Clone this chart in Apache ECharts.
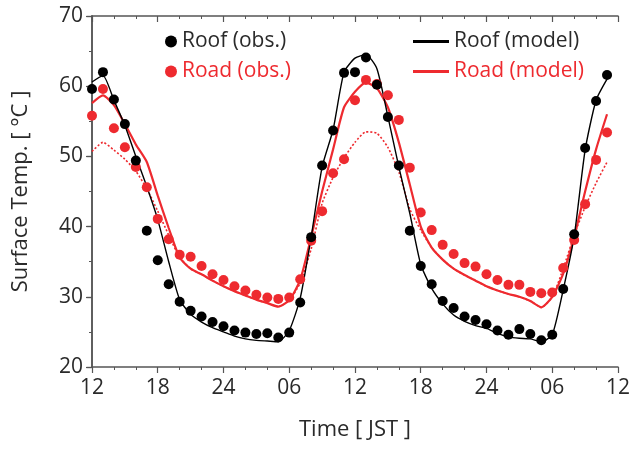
<!DOCTYPE html>
<html>
<head>
<meta charset="utf-8">
<script src="https://cdn.jsdelivr.net/npm/echarts@6/dist/echarts.min.js"></script>
<style>
html,body{margin:0;padding:0;background:#fff;}
#chart{width:633px;height:449px;}
</style>
</head>
<body>
<div id="chart"></div>
<script>
// Hours since 12 JST (hourly)
var hours = [0,1,2,3,4,5,6,7,8,9,10,11,12,13,14,15,16,17,18,19,20,21,22,23,24,25,26,27,28,29,30,31,32,33,34,35,36,37,38,39,40,41,42,43,44,45,46,47];
var xTickLabels = ['12','18','24','06','12','18','24','06','12'];
var yTicks = [20,30,40,50,60,70];

var roofObs = [59.6,62.0,58.1,54.6,49.4,39.4,35.2,31.8,29.3,28.0,27.2,26.4,25.8,25.2,24.9,24.7,24.8,24.2,24.9,29.2,38.5,48.7,53.7,61.9,62.0,64.1,60.2,55.6,48.7,39.4,34.4,31.8,29.4,28.4,27.2,26.7,26.1,25.2,24.6,25.4,24.7,23.8,24.6,31.1,38.9,51.2,57.9,61.6];
var roadObs = [55.8,59.6,54.0,51.3,48.5,45.6,41.1,38.2,36.0,35.7,34.4,33.2,32.4,31.5,30.9,30.3,29.9,29.7,29.9,32.5,38.0,42.2,47.6,49.6,58.0,60.9,60.3,58.7,55.2,48.4,42.0,39.5,37.4,36.1,34.8,34.3,33.2,32.4,31.7,31.7,30.7,30.5,30.6,34.1,38.1,43.2,49.5,53.4];
var roofModel = [60.6,61.5,58.0,54.4,50.0,45.7,41.0,35.0,29.6,27.5,26.4,25.6,25.0,24.4,24.0,23.8,23.7,23.6,25.2,29.8,38.5,48.5,53.8,62.0,64.0,64.5,62.5,55.7,48.5,41.9,34.6,31.2,29.0,27.4,26.5,25.9,25.5,24.8,24.3,24.1,24.0,23.6,24.6,31.0,38.6,50.9,58.0,61.0];
var roadModel = [57.6,58.7,57.3,54.6,51.7,49.2,44.4,39.8,35.6,34.0,33.2,32.3,31.5,30.8,30.2,29.6,29.1,28.6,29.5,32.4,38.5,45.0,51.0,57.0,59.2,60.5,59.7,57.0,52.0,46.0,40.0,37.0,35.3,34.0,33.1,32.3,31.5,30.9,30.4,30.0,29.4,28.5,30.0,33.3,38.5,45.0,51.0,56.0];
var roadModelDotted = [50.7,52.0,50.9,49.6,47.9,45.4,42.2,38.8,35.6,34.0,33.2,32.3,31.5,30.8,30.2,29.6,29.1,28.6,29.5,32.0,36.8,43.3,47.0,49.8,52.0,53.5,53.3,51.3,47.8,42.5,39.5,37.0,35.3,34.0,33.1,32.3,31.5,30.9,30.4,30.0,29.4,28.5,30.0,34.0,38.8,42.8,46.2,49.2];

function pairs(v){ return hours.map(function(h,i){ return [h, v[i]]; }); }

var RED = '#ee2a2f';
var BLACK = '#000000';
var AX = '#555555';
var TXT = '#2a2a2a';
var FONT = 'Open Sans';

var chart = echarts.init(document.getElementById('chart'), null, {renderer:'canvas'});
var xCommon = {type:'value', min:0, max:48, interval:6};
var yCommon = {type:'value', min:20, max:70, interval:10};
chart.setOption({
  animation:false,
  backgroundColor:'#fff',
  textStyle:{fontFamily:FONT},
  grid:{left:92, right:15, top:16, bottom:82},
  legend:[
    {left:160, top:26, orient:'vertical', itemGap:9, itemWidth:12, itemHeight:12,
     textStyle:{fontSize:21, fontFamily:FONT},
     data:[{name:'Roof (obs.)', icon:'circle', textStyle:{color:TXT}},
           {name:'Road (obs.)', icon:'circle', textStyle:{color:RED}}]},
    {left:408, top:26, orient:'vertical', itemGap:9, itemWidth:36, itemHeight:3,
     textStyle:{fontSize:21, fontFamily:FONT},
     data:[{name:'Roof (model)', icon:'rect', textStyle:{color:TXT}},
           {name:'Road (model)', icon:'rect', textStyle:{color:RED}}]}
  ],
  xAxis:[
    Object.assign({}, xCommon, {
      position:'bottom',
      name:'Time [ JST ]', nameLocation:'middle', nameGap:52,
      nameTextStyle:{fontSize:22, color:TXT, fontFamily:FONT},
      axisLine:{lineStyle:{color:AX, width:1.5}},
      axisTick:{show:true, inside:false, length:6, lineStyle:{color:AX, width:1.2}},
      minorTick:{show:true, splitNumber:3, length:3, lineStyle:{color:AX, width:1}},
      axisLabel:{fontSize:21, color:TXT, margin:11, fontFamily:FONT,
        formatter:function(v){ return xTickLabels[Math.round(v/6)]; }},
      splitLine:{show:false}
    }),
    Object.assign({}, xCommon, {
      position:'top',
      axisLine:{show:true, lineStyle:{color:AX, width:1.5}},
      axisTick:{show:true, inside:true, length:6, lineStyle:{color:AX, width:1.2}},
      minorTick:{show:true, splitNumber:3, length:3, lineStyle:{color:AX, width:1}},
      axisLabel:{show:false}, splitLine:{show:false}
    })
  ],
  yAxis:[
    Object.assign({}, yCommon, {
      position:'left',
      name:'Surface Temp. [ °C ]', nameLocation:'middle', nameGap:60,
      nameTextStyle:{fontSize:22, color:TXT, fontFamily:FONT},
      axisLine:{show:true, lineStyle:{color:AX, width:1.5}},
      axisTick:{show:true, inside:false, length:6, lineStyle:{color:AX, width:1.2}},
      minorTick:{show:true, splitNumber:2, length:3, lineStyle:{color:AX, width:1}},
      axisLabel:{fontSize:21, color:TXT, margin:9, fontFamily:FONT},
      splitLine:{show:false}
    }),
    Object.assign({}, yCommon, {
      position:'right',
      axisLine:{show:true, lineStyle:{color:AX, width:1.5}},
      axisTick:{show:true, inside:true, length:5, lineStyle:{color:AX, width:1.2}},
      minorTick:{show:true, splitNumber:2, length:3, lineStyle:{color:AX, width:1}},
      axisLabel:{show:false}, splitLine:{show:false}
    })
  ],
  series:[
    {name:'Road (model) dotted', type:'line', data:pairs(roadModelDotted), showSymbol:false, symbol:'none', smooth:0.2,
     lineStyle:{color:RED, width:1.6, type:[2,2]}, z:2},
    {name:'Road (model)', type:'line', data:pairs(roadModel), showSymbol:false, symbol:'none', smooth:0.2,
     itemStyle:{color:RED}, lineStyle:{color:RED, width:2.2}, z:3},
    {name:'Roof (model)', type:'line', data:pairs(roofModel), showSymbol:false, symbol:'none', smooth:0.2,
     itemStyle:{color:BLACK}, lineStyle:{color:BLACK, width:1.4}, z:3},
    {name:'Road (obs.)', type:'scatter', data:pairs(roadObs), symbol:'circle', symbolSize:10,
     itemStyle:{color:RED, opacity:1}, z:4},
    {name:'Roof (obs.)', type:'scatter', data:pairs(roofObs), symbol:'circle', symbolSize:10,
     itemStyle:{color:BLACK, opacity:1}, z:5}
  ]
});
</script>
</body>
</html>
